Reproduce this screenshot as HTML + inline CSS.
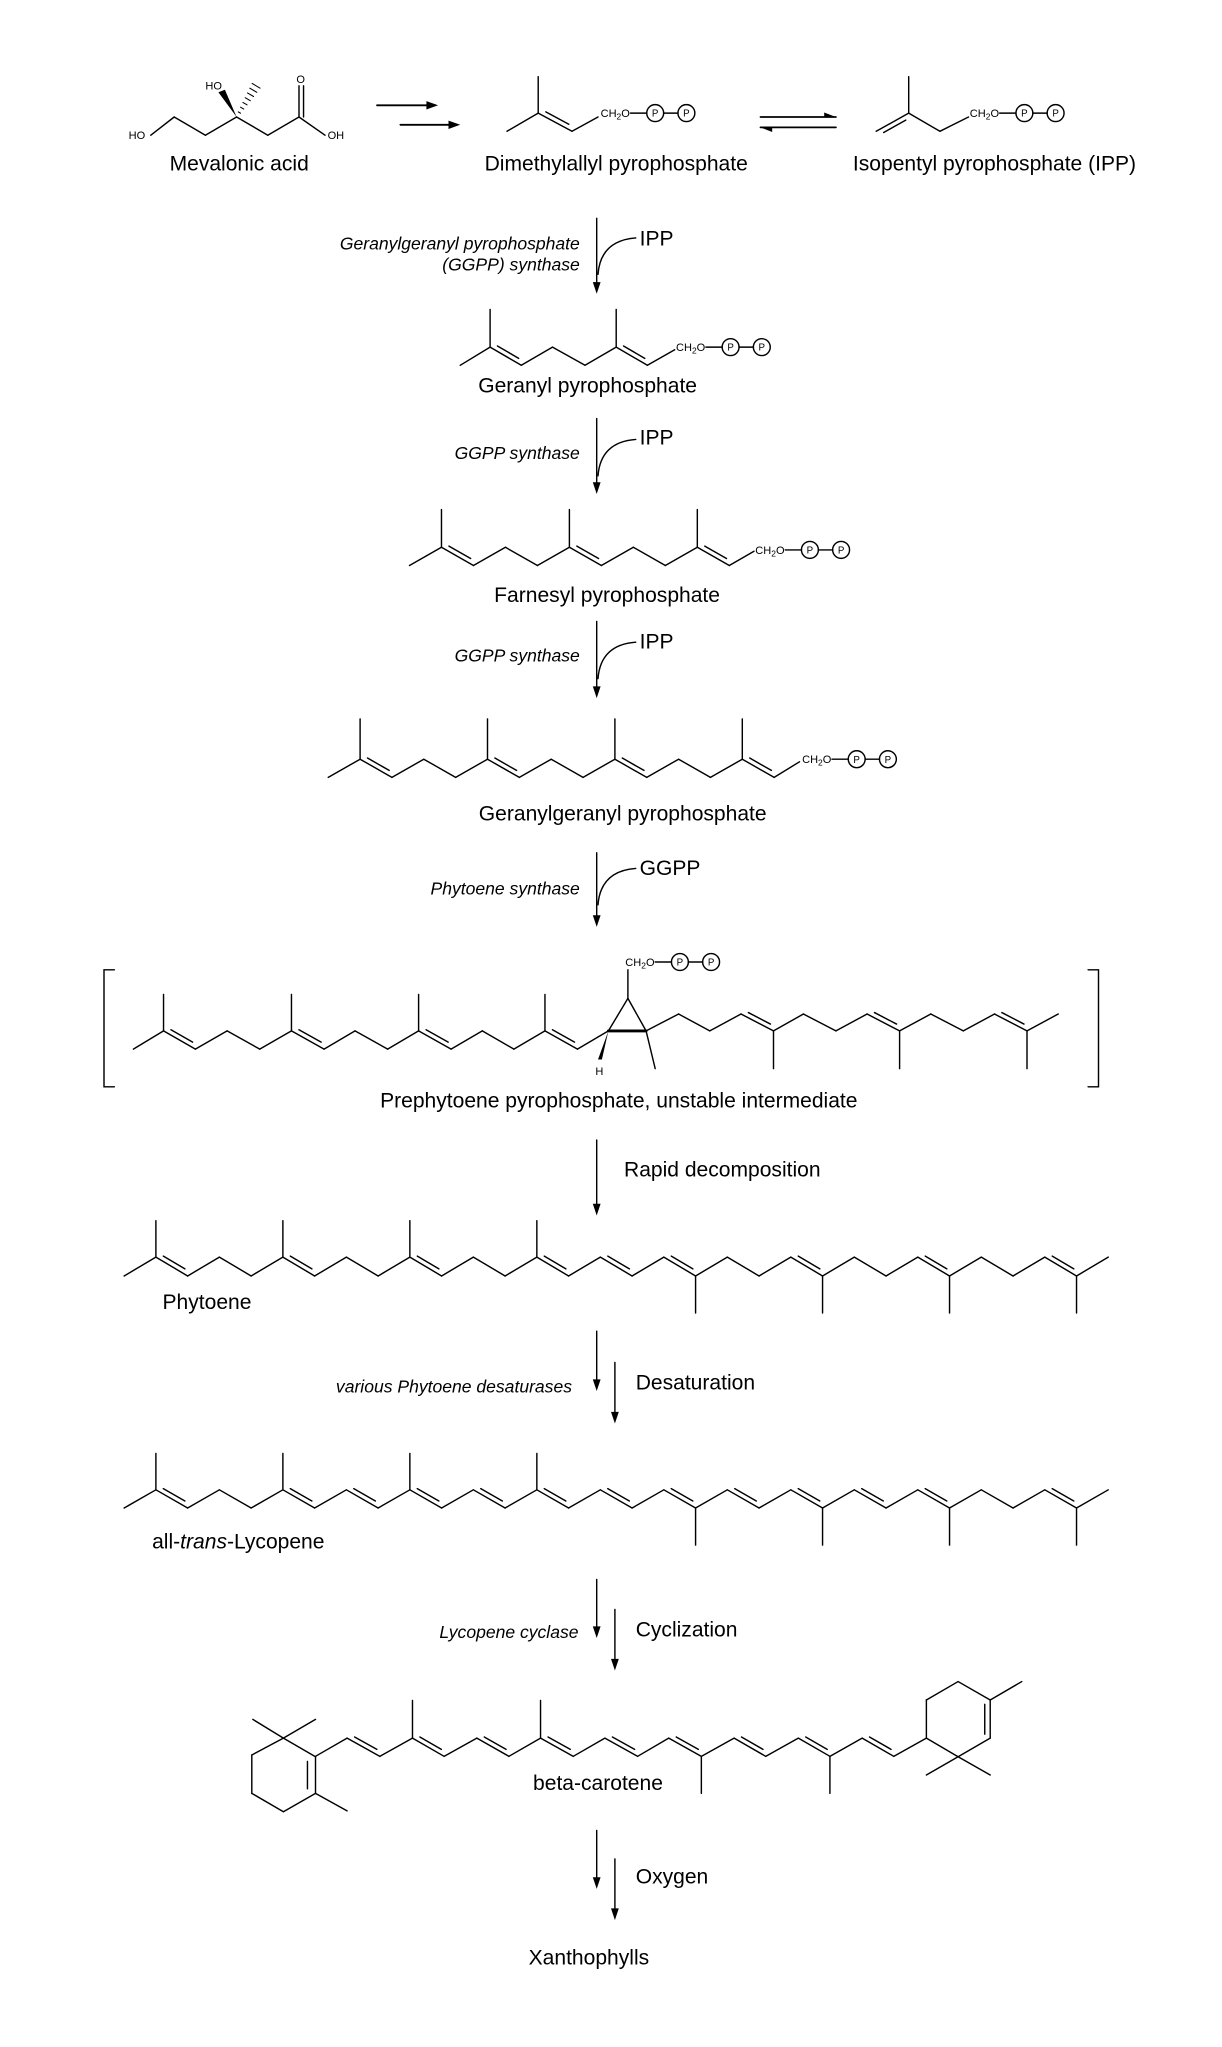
<!DOCTYPE html>
<html><head><meta charset="utf-8"><style>
html,body{margin:0;padding:0;background:#fff;}
svg{display:block;}
text{font-family:"Liberation Sans",Arial,sans-serif;fill:#000;}
.l{font-size:16.2px;}
.i{font-size:13.5px;font-style:italic;}
.s{font-size:8.5px;}
.p{font-size:7.5px;}
</style></head><body>
<svg id="g" xmlns="http://www.w3.org/2000/svg" width="1222" height="2047" viewBox="0 0 940 1574.6" preserveAspectRatio="none">
<rect width="940" height="1575" fill="#fff"/>
<g id="d" stroke="#000" stroke-width="1.1" fill="none" stroke-linecap="round"></g>
<g id="f" fill="#000"></g>

<text class="l" x="184" y="131" text-anchor="middle">Mevalonic acid</text>
<text class="l" x="474" y="131" text-anchor="middle">Dimethylallyl pyrophosphate</text>
<text class="l" x="765" y="131" text-anchor="middle">Isopentyl pyrophosphate (IPP)</text>
<text class="s" x="99" y="107">HO</text>
<text class="s" x="158" y="69">HO</text>
<text class="s" x="228" y="64">O</text>
<text class="s" x="252" y="107">OH</text>

<text class="i" x="446" y="192" text-anchor="end">Geranylgeranyl pyrophosphate</text>
<text class="i" x="446" y="208" text-anchor="end">(GGPP) synthase</text>
<text class="l" x="492" y="189">IPP</text>
<text class="l" x="452" y="302" text-anchor="middle">Geranyl pyrophosphate</text>

<text class="i" x="446" y="353" text-anchor="end">GGPP synthase</text>
<text class="l" x="492" y="342">IPP</text>
<text class="l" x="467" y="463" text-anchor="middle">Farnesyl pyrophosphate</text>

<text class="i" x="446" y="509" text-anchor="end">GGPP synthase</text>
<text class="l" x="492" y="499">IPP</text>
<text class="l" x="479" y="631" text-anchor="middle">Geranylgeranyl pyrophosphate</text>

<text class="i" x="446" y="688" text-anchor="end">Phytoene synthase</text>
<text class="l" x="492" y="673">GGPP</text>

<text class="s" x="458" y="827">H</text>
<text class="l" x="476" y="852" text-anchor="middle">Prephytoene pyrophosphate, unstable intermediate</text>

<text class="l" x="480" y="905">Rapid decomposition</text>
<text class="l" x="125" y="1007">Phytoene</text>

<text class="i" x="440" y="1071" text-anchor="end">various Phytoene desaturases</text>
<text class="l" x="489" y="1069">Desaturation</text>
<text class="l" x="117" y="1191">all-<tspan font-style="italic">trans</tspan>-Lycopene</text>

<text class="i" x="445" y="1260" text-anchor="end">Lycopene cyclase</text>
<text class="l" x="489" y="1259">Cyclization</text>
<text class="l" x="460" y="1377" text-anchor="middle">beta-carotene</text>

<text class="l" x="489" y="1449">Oxygen</text>
<text class="l" x="453" y="1511" text-anchor="middle">Xanthophylls</text>
</svg>
<script>
var NS="http://www.w3.org/2000/svg",D=document.getElementById('d'),F=document.getElementById('f'),G=document.getElementById('g');
function el(p,t,a){var e=document.createElementNS(NS,t);for(var k in a)e.setAttribute(k,a[k]);p.appendChild(e);return e;}
function L(x1,y1,x2,y2,w){var e=el(D,'line',{x1:x1,y1:y1,x2:x2,y2:y2});if(w)e.setAttribute('stroke-width',w);}
function dbl(a,b,c){var dx=b[0]-a[0],dy=b[1]-a[1],len=Math.hypot(dx,dy),nx=-dy/len,ny=dx/len;
 var mx=(a[0]+b[0])/2,my=(a[1]+b[1])/2; if(((c[0]-mx)*nx+(c[1]-my)*ny)<0){nx=-nx;ny=-ny;}
 var o=3.6,s=0.16;L(a[0]+dx*s+nx*o,a[1]+dy*s+ny*o,b[0]-dx*s+nx*o,b[1]-dy*s+ny*o);}
function chain(p,dbls){for(var i=0;i<p.length-1;i++)L(p[i][0],p[i][1],p[i+1][0],p[i+1][1]);
 dbls.forEach(function(i){var c=p[i+2]||p[i-1];dbl(p[i],p[i+1],c);});}
function arrow(x,y1,y2){L(x,y1,x,y2-6);el(F,'polygon',{points:(x-3)+','+(y2-9)+' '+(x+3)+','+(y2-9)+' '+x+','+y2});}
function harrow(x1,x2,y){L(x1,y,x2+(x2>x1?-6:6),y,1.4);var d=x2>x1?-9:9;el(F,'polygon',{points:(x2+d)+','+(y-3.2)+' '+(x2+d)+','+(y+3.2)+' '+x2+','+y});}
function halfarrow(x1,x2,y,up){L(x1,y,x2,y,1.4);var d=x2>x1?-9:9;el(F,'polygon',{points:(x2+d)+','+(y+(up?-3.5:3.5))+' '+(x2+d)+','+y+' '+x2+','+y});}
function pp(x,y){var t=el(G,'text',{x:x,y:y+3,'class':'s'});t.innerHTML='CH<tspan font-size="6.5" dy="2">2</tspan><tspan dy="-2">O</tspan>';
 var cx1=x+42,cx2=x+66;L(x+23,y,cx1-6.5,y);L(cx1+6.5,y,cx2-6.5,y);
 [cx1,cx2].forEach(function(c){el(D,'circle',{cx:c,cy:y,r:6.5});var p=el(G,'text',{x:c,y:y+2.8,'class':'p','text-anchor':'middle'});p.textContent='P';});}

chain([[116,104],[134,90],[158,104],[182,90],[206,104],[230,90],[250,104]],[]);
L(230,90,230,66);L(233.5,90,233.5,66);
el(F,'polygon',{points:'182,90 168,71 173,69'});
for(var k=1;k<=7;k++){var t=k/7,x=182+(197-182)*t,y=90+(66-90)*t,w=0.6+t*3;L(x-w*0.85,y-w*0.5,x+w*0.85,y+w*0.5,0.8);}
harrow(290,337,81);harrow(308,354,96);
halfarrow(585,643,90,true);halfarrow(643,585,98,false);
chain([[390,101],[414,87],[440,101],[460,90]],[1]);L(414,87,414,59);pp(462,87);
chain([[674,101],[699,87],[723,101],[745,90]],[]);L(699,87,699,59);
dbl([699,87],[674,101],[723,101]);pp(746,87);
function curved(y){el(D,'path',{d:'M460,'+(y+28)+' Q462,'+(y+2)+' 489,'+y});}
arrow(459,168,226);curved(183);
arrow(459,322,380);curved(338);
arrow(459,478,537);curved(494);
arrow(459,656,713);curved(668);
(function(){var p=[],xs=[354,377,401,425,450,474,498];xs.forEach(function(x,i){p.push([x,i%2?267:281]);});p.push([519,269]);
chain(p,[1,5]);L(377,267,377,238);L(474,267,474,238);pp(520,267);})();
(function(){var p=[];for(var i=0;i<11;i++)p.push([315+i*24.6,i%2?421:435]);p.push([580,424]);
chain(p,[1,5,9]);[1,5,9].forEach(function(i){L(p[i][0],421,p[i][0],392);});pp(581,423);})();
(function(){var p=[];for(var i=0;i<15;i++)p.push([252.5+i*24.5,i%2?584:598]);p.push([615,586]);
chain(p,[1,5,9,13]);[1,5,9,13].forEach(function(i){L(p[i][0],584,p[i][0],553);});pp(617,584);})();
(function(){var xs=[102.6,125.8,150.3,174.7,199.8,224.2,249.3,273.1,298.2,322,347,371,395.3,419.2,444.2],p=[];
xs.forEach(function(x,i){p.push([x,i%2?793:807]);});p.push([468,793]);
chain(p,[1,5,9,13]);[1,5,9,13].forEach(function(i){L(p[i][0],793,p[i][0],765);});
L(468,793,497,793,2.2);L(468,793,483,768);L(497,793,483,768);L(483,768,483,746);
el(F,'polygon',{points:'468,793 460,815 463,815'});L(497,793,504,822);
var r=[[497,793],[522,780],[546,793],[570,780],[595,793],[618,780],[643,793],[667,780],[692,793],[716,780],[741,793],[765,780],[790,793],[814,780]];
chain(r,[3,7,11]);[4,8,12].forEach(function(i){L(r[i][0],793,r[i][0],822);});
pp(481,740);
el(D,'polyline',{points:'88,746 80,746 80,836 88,836'});el(D,'polyline',{points:'837,746 845,746 845,836 837,836'});})();
arrow(459,877,935);
function longChain(yh,yl,yt,yb,dbls){var p=[];for(var i=0;i<32;i++)p.push([95.5+i*24.42,i%2?yh:yl]);chain(p,dbls);
[1,5,9,13].forEach(function(i){L(p[i][0],yh,p[i][0],yt);});[18,22,26,30].forEach(function(i){L(p[i][0],yl,p[i][0],yb);});}
longChain(967,981.5,939,1010,[1,5,9,13,15,17,21,25,29]);
arrow(459,1024,1070);arrow(473,1048,1095);
longChain(1146,1160,1118,1188.5,[1,5,7,9,11,13,15,17,19,21,23,25,29]);
arrow(459,1215,1260);arrow(473,1238,1285);
(function(){
var ring=[[218,1337],[193.7,1350],[193.7,1379.5],[218,1393.6],[242.7,1379.5],[242.7,1351.3]];
for(var i=0;i<6;i++){var a=ring[i],b=ring[(i+1)%6];L(a[0],a[1],b[0],b[1]);}
L(236.5,1355,236.5,1376);L(218,1337,194.5,1322.6);L(218,1337,242.7,1322.6);L(242.7,1379.5,267,1393);
var xs=[242.7,267,292.2,317.3,341.6,366.8,391.5,415.8,441,465.3,490.5,514.4,539.5,564.7,589,614.1,638.4,663.2,687.5,712.6],p=[];
xs.forEach(function(x,i){p.push([x,i%2?1337:1351]);});
chain(p,[1,3,5,7,9,11,13,15,17]);
L(317.3,1337,317.3,1308);L(415.8,1337,415.8,1308);L(539.5,1351,539.5,1379.5);L(638.4,1351,638.4,1379.5);
var r=[[712.6,1337],[712.6,1307.7],[737,1293.5],[761.7,1307.7],[761.7,1337],[737,1351.3]];
for(var i=0;i<6;i++){var a=r[i],b=r[(i+1)%6];L(a[0],a[1],b[0],b[1]);}
L(757.5,1311,757.5,1334);L(761.7,1307.7,786,1293.5);L(737,1351.3,712.6,1365.4);L(737,1351.3,761.7,1365.4);
})();
arrow(459,1408,1453);arrow(473,1430,1477);
</script>
</body></html>
